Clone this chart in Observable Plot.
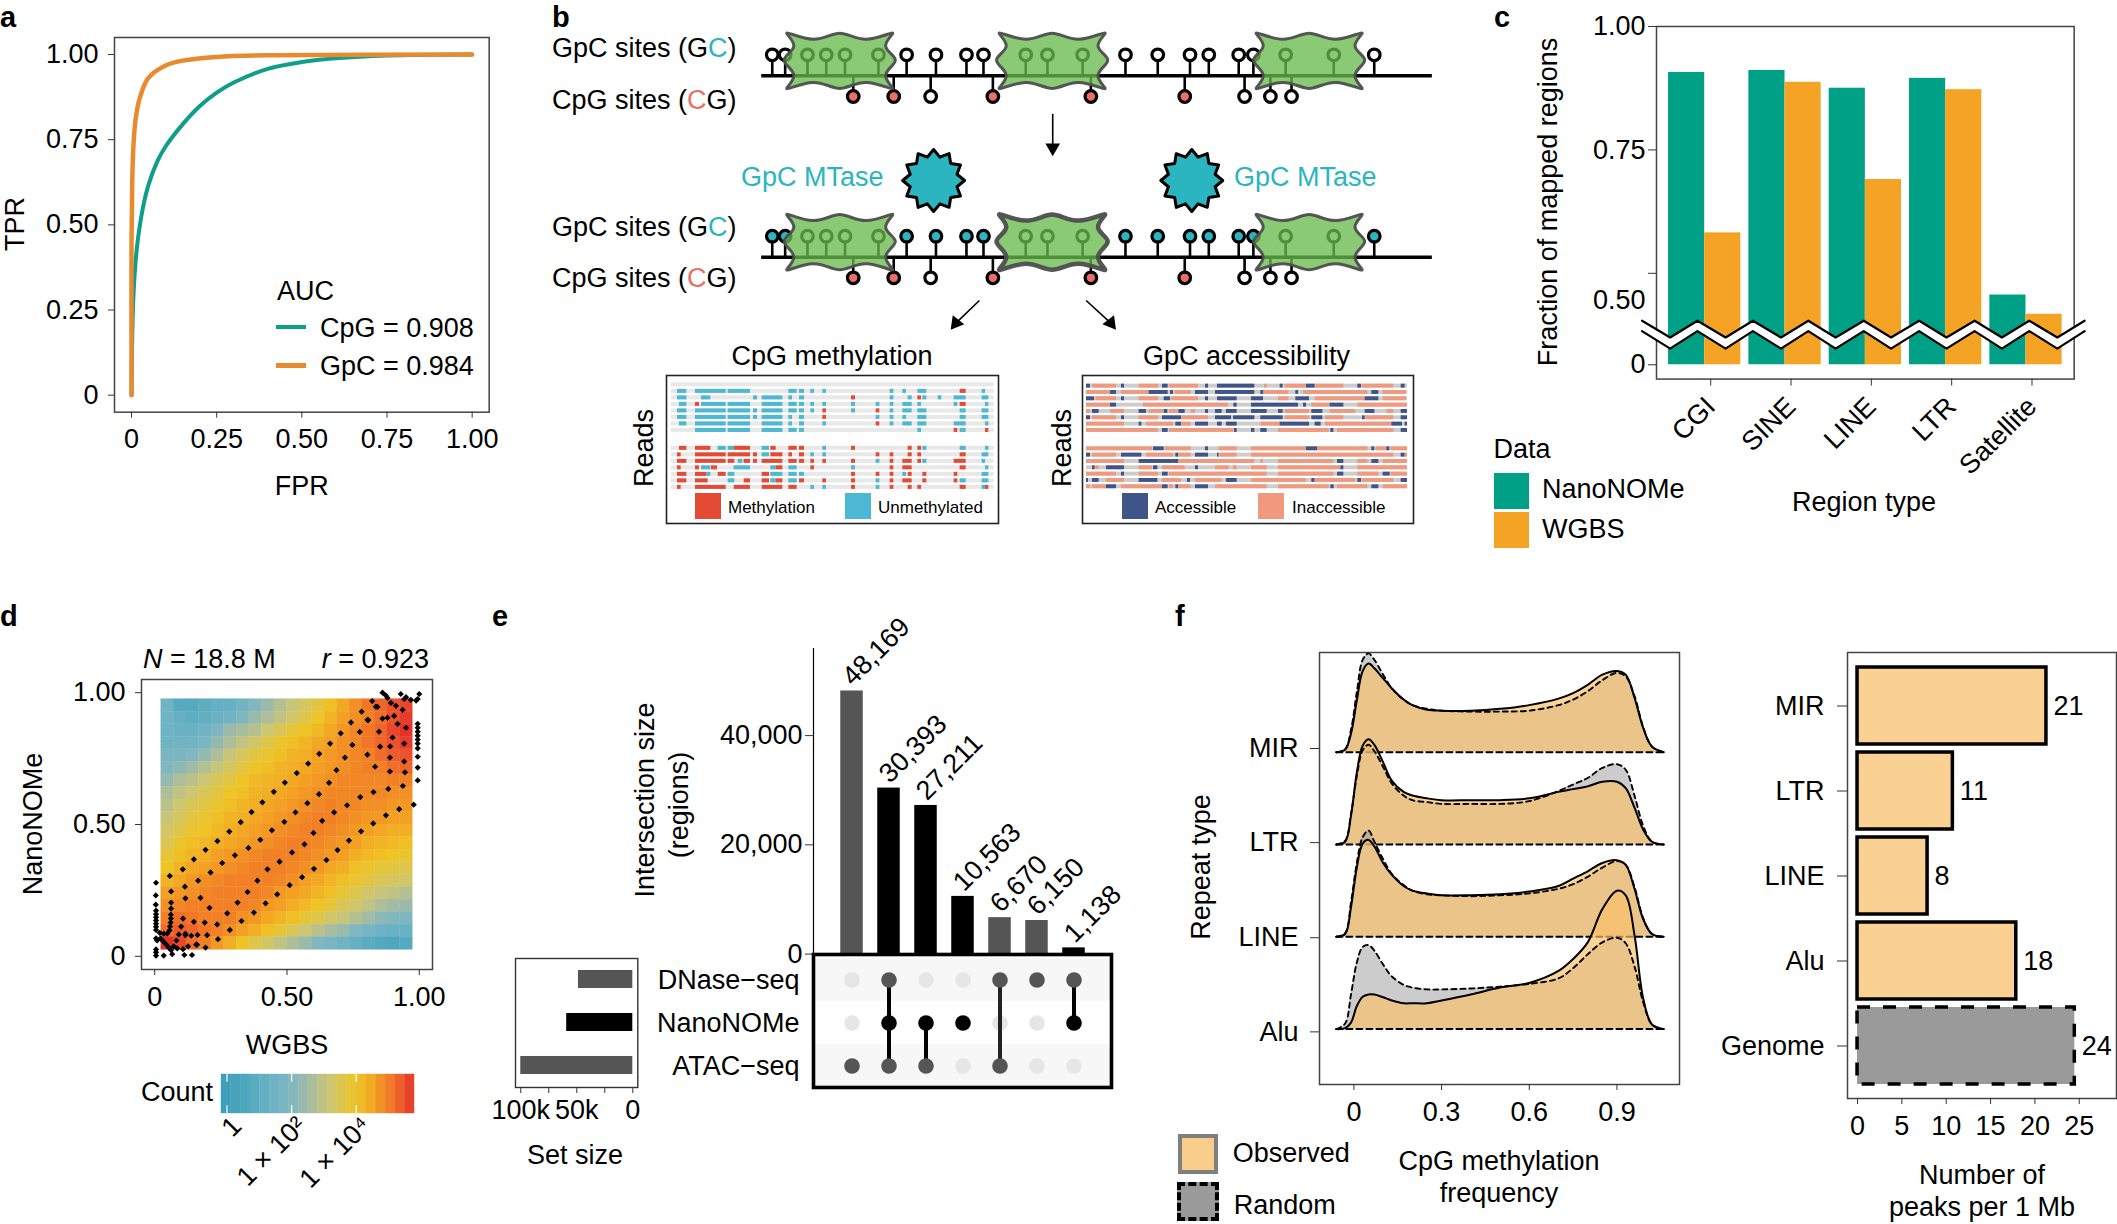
<!DOCTYPE html>
<html><head><meta charset="utf-8">
<script src="https://cdn.jsdelivr.net/npm/d3@7"></script>
<script src="https://cdn.jsdelivr.net/npm/@observablehq/plot@0.6"></script>
<style>
html,body{margin:0;padding:0;background:#fff;overflow:hidden}
#page{position:relative;width:2117px;height:1224px;overflow:hidden;font-family:"Liberation Sans",Arial,sans-serif;color:#000}
.t{position:absolute;white-space:nowrap;line-height:1}
.s{position:absolute;box-sizing:border-box}
svg{position:absolute}
</style></head><body><div id="page"></div>
<script>
/* ---------- panel a ---------- */
const cpgRocFpr=[0,.004,.011,.019,.034,.05,.075,.1,.15,.2,.25,.3,.4,.5,.6,.75,1];
const cpgRocTpr=[0,.25,.38,.46,.553,.618,.685,.73,.795,.848,.888,.918,.958,.978,.989,.997,1];
const gpcRocFpr=[0,0,.002,.005,.012,.025,.05,.1,.15,.25,.42,1];
const gpcRocTpr=[0,.45,.62,.72,.81,.875,.932,.968,.982,.993,.998,1];
/* ---------- panel b ---------- */
const gpcSites=[395,417,455,487,519,576,624,674,726,755,827,864,924,997,1052,1107,1139,1190,1215,1270,1352,1421];
const nucleosomeGpc=[455,487,519,576,827,864,924,1270,1352];
const cpgSites=[533,602,665,771,938,1098,1200,1244,1280];
const cpgMethylated=[533,602,771,938,1098];
const strands=[226,770];
const nucleosomeCenters=[510,872,1310];
const blobX=[-1.185,-.44,0,.44,1.185,.678,1.206,.678,1.185,.44,0,-.44,-1.185,-.678,-1.206,-.678];
const blobY=[-104,-46,-101,-46,-104,-41,-3,41,104,46,101,46,104,41,-3,-41];
const mtase=[[670,540],[1110,540]];
const cpgReadRows=[
"U36-64 U90-182 U188-255 U370-395 U402-417 U436-447 U472-483 U674-685 U712-723 U757-784 M884-902 U950-960",
"U36-64 U108-136 U264-276 U290-352 U370-381 U402-417 M558-570 U674-685 U728-740 M757-768 U772-784 U818-829 U866-902 U950-970",
"U42-64 M90-102 U108-182 U188-255 U290-352 U370-395 U402-417 U436-447 U472-483 U558-570 U632-643 U674-685 U712-740 U757-768 U866-877 M884-902 U960-970",
"U36-64 U90-182 U188-255 U264-276 U290-352 U370-395 U402-417 U436-447 M472-483 U558-570 M632-643 U674-685 U712-740 U757-784 U884-902 U950-970",
"U36-64 U90-182 U188-255 U264-276 U290-352 U370-381 U402-417 M472-483 U632-643 U674-685 U712-723 U757-784 U884-902 U950-970",
"U42-64 U90-182 U188-255 U290-352 U370-381 U402-417 U472-483 M632-643 U674-685 U712-740 U757-784 U866-902 U960-970",
"U90-182 U188-255 U290-352 U370-395 U402-417 U757-768 M866-877 U884-902 M960-970",
"M42-64 M90-136 U158-182 U188-206 M206-255 U290-312 M316-332 M370-395 M402-417 U472-483 M558-570 M728-740 M757-768 U772-784 U884-902 U960-970",
"M36-47 M90-182 M188-255 M264-276 U290-312 M316-352 M370-381 M402-417 U436-447 U472-483 M632-643 M674-685 M728-740 M757-768 M884-902 U950-970",
"M36-64 M90-182 M188-208 U218-232 M236-255 M264-276 M290-352 M370-395 M402-417 M436-447 M472-483 M558-570 U632-643 M674-685 M712-740 M757-768 U772-784 M866-902 U950-960",
"M36-47 M90-102 U108-136 M138-156 U206-255 U316-332 M332-352 U370-395 M436-447 U558-570 M674-685 M712-740 M884-902 U960-970",
"M36-64 M90-124 U124-136 M158-182 U188-208 M290-312 U316-352 U370-395 U402-417 M558-570 M632-643 M674-685 U712-723 M728-740 M772-784 M866-877 U950-970",
"M36-64 M90-128 U188-208 M236-255 M290-312 U316-332 M332-352 U370-395 M402-417 M472-483 M558-570 U632-643 M674-685 M712-740 M772-784 M866-877 U884-902 U950-970",
"M36-47 M90-182 M206-255 M290-352 M370-395 U436-447 U472-483 M558-570 U632-643 M674-685 M728-740 M757-768 M884-902 U950-960 M960-970"];
const cpgTracks=[1,2,3,4,5,6,7,9.75,10.75,11.75,12.75,13.75,14.75,15.75];
const gpcReadRows=[
"A24-36 I42-114 A129-138 I182-240 A252-269 I273-360 A381-390 A417-529 I558-566 A605-614 I620-684 A684-710 I712-796 A838-849 I852-946 A968-980",
"I24-96 A96-114 I129-212 A212-269 A276-285 I290-338 A351-390 A411-529 A547-556 I558-631 A652-660 I675-868 A880-901 I914-984",
"A24-48 I52-114 A129-138 I182-240 A257-276 I280-360 A381-390 A417-476 A519-555 I600-631 A652-693 I710-860 A860-901 I914-984",
"I24-96 A96-114 I195-450 A466-476 A519-660 A675-684 I700-755 A755-796 I838-987",
"I24-36 A42-62 I96-138 A182-204 I212-255 A257-268 I273-299 A301-320 I338-351 A381-390 A411-431 A444-476 A519-566 A600-614 I620-693 A700-733 I755-832 A860-889 I926-946 A968-987",
"A24-36 I42-114 A129-138 I182-240 A252-309 I310-390 A411-459 A465-529 A547-614 I620-693 A700-733 I741-796 A852-860 I862-946 A968-987",
"I24-138 A182-190 I204-285 A292-309 I310-338 A351-390 A417-431 A444-476 I547-605 A605-693 A710-728 I741-940 A940-972 A980-987",
"I24-240 A252-269 I273-466 A468-476 A519-529 A547-566 I600-752 A757-766 I777-946 A968-987",
"I24-222 A225-257 I260-338 A381-390 I422-476 I519-684 A684-718 I718-868 A880-889 I893-925 A925-934 I938-987",
"A24-36 I42-114 A129-190 I204-285 A292-301 I301-338 A351-390 A417-422 I425-476 I519-946 A968-980 I980-987",
"I24-138 A182-301 I301-529 I547-555 I600-767 A777-796 I838-868 A880-901 I914-987",
"A42-50 I52-62 A84-138 I182-222 A225-238 I252-320 A351-360 I411-452 I465-476 I519-566 I600-786 A787-796 I838-987",
"I24-114 A129-138 I182-240 A252-269 I273-566 I600-767 A777-796 I838-901 A914-935 I938-987",
"A24-30 A42-62 I84-138 A182-238 I252-309 A327-336 I351-431 A444-476 I519-684 A700-710 I710-832 A838-849 I852-946 A968-987",
"I24-36 I42-84 A84-114 I129-252 A252-269 I273-285 A292-301 I301-338 A351-390 I411-566 I600-752 A757-767 I777-868 A880-901 I914-987"];
const gpcTracks=[0,1,2,3,4,5,6,7,9.9,10.9,11.9,12.9,13.9,14.9,15.9];
/* ---------- panel c ---------- */
const regionTypes=["CGI","SINE","LINE","LTR","Satellite"];
const nanonomeFraction=[.907,.911,.875,.895,.456];
const wgbsFraction=[.582,.887,.69,.872,.417];
const zigzagX=[-.78,-.43,-.09,.26,.6,.95,1.29,1.63,1.98,2.32,2.67,3.01,3.36,3.7,4.04,4.39,4.73];
const fractionTicks=[0,.5,.75,1];
const fractionLabels=[[0,"0"],[.446,"0.50"],[.75,"0.75"],[1,"1.00"]];
/* ---------- panel d: log10 count per bin, tenths, rows from top ---------- */
const binCounts=[
[15,8,8,10,12,12,16,20,24,28,31,34,37,41,45,48,51,53,55,56],
[15,12,10,11,13,15,19,24,27,30,33,36,40,43,46,48,50,52,55,57],
[14,13,13,15,19,24,26,28,32,35,38,40,42,45,47,49,51,53,56,58],
[15,15,16,18,23,27,30,33,36,39,41,43,45,46,48,49,51,53,55,57],
[18,18,20,23,27,31,34,37,39,41,43,44,46,47,48,49,50,52,54,55],
[20,22,25,28,31,34,37,40,41,43,44,45,46,47,48,49,50,50,52,53],
[23,27,29,32,35,37,40,42,43,44,45,46,47,48,49,49,49,49,50,50],
[27,30,32,35,37,40,41,43,44,45,46,47,48,49,49,49,49,49,48,48],
[29,32,35,37,39,41,43,44,45,46,47,48,49,50,49,49,48,48,47,47],
[31,34,37,39,41,43,44,45,46,47,48,49,50,50,49,48,47,47,46,46],
[33,36,39,40,42,44,45,46,47,48,49,50,50,49,48,47,46,45,44,44],
[35,39,41,42,44,45,46,47,48,49,50,50,49,48,47,46,44,43,42,41],
[38,41,43,44,46,47,48,49,50,50,50,49,48,47,46,44,42,41,40,39],
[40,43,45,46,47,48,49,50,50,50,49,48,47,45,44,41,39,38,37,36],
[43,45,47,48,49,50,50,50,50,49,48,46,45,43,41,39,37,35,34,33],
[46,47,48,49,50,50,50,50,49,47,46,45,43,41,38,36,33,31,30,28],
[48,49,50,50,50,50,50,49,47,46,44,42,40,38,35,33,30,27,25,24],
[50,52,51,50,50,50,48,47,45,43,41,38,36,33,31,28,25,22,20,19],
[52,54,53,51,50,48,46,44,41,38,35,32,29,26,24,20,17,14,13,13],
[58,56,52,50,47,44,40,36,33,30,27,24,20,18,15,12,9,7,6,8]];
const countStops=[-.2,.6,1.4,2,2.6,3.2,4,4.5,5,5.4,5.8];
const countColors=["#3a9db7","#4ea7bd","#6db3c4","#80b7c0","#a8bc9f","#cdc773","#eec526","#f3a823","#f28026","#ee5c2b","#e4322b"];
const contourOuterUpper=[[.057,.305],[.106,.33],[.148,.368],[.192,.404],[.237,.437],[.282,.473],[.325,.509],[.366,.547],[.407,.584],[.45,.624],[.492,.659],[.537,.695],[.58,.731],[.622,.768],[.663,.807],[.703,.846],[.742,.887],[.782,.928],[.822,.968]];
const contourInnerUpper=[[.062,.246],[.114,.264],[.164,.287],[.211,.318],[.255,.354],[.303,.383],[.354,.411],[.399,.442],[.443,.478],[.49,.51],[.532,.546],[.577,.581],[.621,.615],[.659,.658],[.687,.706],[.719,.754],[.747,.802],[.775,.851],[.807,.896],[.836,.947],[.873,.99]];
const contourInnerLower=[[.116,.22],[.173,.222],[.207,.184],[.148,.131],[.189,.128],[.236,.121],[.274,.163],[.313,.204],[.351,.244],[.388,.287],[.426,.33],[.472,.359],[.519,.394],[.566,.425],[.6,.468],[.633,.514],[.678,.546],[.727,.573],[.777,.604],[.827,.623],[.883,.635],[.938,.646]];
const contourOuterLower=[[.116,.086],[.16,.044],[.192,.033],[.239,.065],[.284,.1],[.328,.134],[.375,.166],[.419,.201],[.463,.235],[.51,.27],[.557,.3],[.602,.332],[.649,.365],[.691,.403],[.734,.439],[.78,.474],[.826,.504],[.874,.535],[.924,.558],[.979,.575]];
const contourLowCorner=[[.005,.279],[.004,.231],[.004,.196],[.005,.173],[.005,.16],[.005,.148],[.005,.136],[.005,.124],[.005,.112],[.005,.1],[.005,.068],[.009,.06],[.005,.026],[.005,.015],[.005,.003],[.062,.204],[.062,.181],[.061,.158],[.061,.143],[.06,.128],[.058,.113],[.056,.098],[.047,.086],[.034,.086],[.019,.089],[.022,.068],[.032,.057],[.043,.045],[.053,.033],[.062,.023],[.072,.038],[.082,.06],[.091,.083],[.1,.113],[.107,.143],[.034,.003],[.066,.008],[.112,.005],[.141,.005],[.085,.03],[.107,.027],[.126,.038],[.157,.044],[.116,.08],[.138,.078],[.162,.081],[.198,.08]];
const contourHighCorner=[[.994,.667],[.994,.716],[.994,.757],[.994,.789],[.994,.807],[.994,.822],[.994,.837],[.994,.852],[.994,.867],[.994,.882],[.988,.97],[1,.995],[.861,1],[.88,.98],[.893,.961],[.912,.95],[.93,.995],[.943,.976],[.95,.983],[.968,.973],[.994,.976],[.905,.912],[.88,.905],[.861,.902],[.842,.946],[.804,.897],[.848,.852],[.899,.83],[.918,.882],[.937,.935],[.95,.867],[.852,.795],[.89,.796],[.943,.807],[.804,.765],[.833,.719],[.889,.754],[.943,.739],[.889,.701],[.946,.698]];
/* ---------- panel e ---------- */
const intersectionSizes=[48169,30393,27211,10563,6670,6150,1138];
const intersectionDark=[true,false,false,false,true,true,false];
const setNames=["DNase−seq","NanoNOMe","ATAC−seq"];
const setSizes=[48500,59000,100000];
const intersectionMembers=[["ATAC−seq"],["DNase−seq","NanoNOMe","ATAC−seq"],["NanoNOMe","ATAC−seq"],["NanoNOMe"],["DNase−seq","ATAC−seq"],["DNase−seq"],["DNase−seq","NanoNOMe"]];
/* ---------- panel f ---------- */
const methylationX=[-.06,-.03,-.01,.01,.03,.05,.07,.1,.13,.17,.2,.25,.3,.4,.5,.6,.7,.75,.8,.85,.9,.93,.96,.99,1.02,1.06];
const mirObserved=[0,.03,.2,.56,.88,.96,.91,.8,.69,.57,.51,.46,.45,.45,.47,.51,.58,.64,.73,.84,.88,.84,.59,.26,.06,0];
const mirRandom=[0,.03,.24,.65,1,1.07,1,.84,.69,.57,.51,.47,.45,.44,.44,.45,.51,.57,.66,.78,.86,.82,.61,.27,.06,0];
const ltrObserved=[0,.03,.31,.78,1.07,1.14,1.08,.89,.69,.57,.53,.5,.48,.48,.48,.5,.57,.6,.63,.68,.68,.61,.4,.16,.03,0];
const ltrRandom=[0,.04,.33,.74,1.02,1.08,1.01,.84,.66,.53,.48,.46,.44,.44,.44,.47,.58,.65,.72,.83,.87,.81,.53,.2,.03,0];
const lineObserved=[0,.03,.32,.75,1.01,1.05,.98,.8,.67,.55,.5,.47,.45,.45,.46,.49,.55,.63,.71,.8,.83,.78,.52,.19,.03,0];
const lineRandom=[0,.04,.37,.8,1.08,1.15,1.03,.84,.68,.56,.5,.46,.45,.44,.45,.47,.52,.57,.65,.75,.82,.78,.54,.2,.03,0];
const aluObserved=[0,.01,.07,.25,.35,.375,.375,.345,.31,.28,.28,.28,.31,.375,.45,.5,.63,.76,.94,1.3,1.5,1.45,1.02,.33,.05,0];
const aluRandom=[0,.06,.375,.72,.89,.91,.85,.7,.57,.48,.45,.43,.43,.44,.46,.49,.55,.66,.81,.94,.99,.93,.68,.29,.05,0];
const repeatNames=["MIR","LTR","LINE","Alu"];
const repeatRows=[3,2,1,0];
const repeatTicks=[3.04,2.02,.99,-.03];
const peakNames=["MIR","LTR","LINE","Alu","Genome"];
const peakValues=[21.3,10.75,7.9,17.9,24.5];
const peakLabels=["21","11","8","18","24"];

/* ---------- helpers ---------- */
const page=document.getElementById("page");
const FONT='"Liberation Sans",Arial,sans-serif';
const FS=27;
const style={fontFamily:FONT,fontSize:FS+"px",background:"transparent",overflow:"visible",color:"#000"};
function box(L,R,T,B,ml=70,mr=20,mt=20,mb=70){return {L,T,ml,mt,opts:{width:R-L+ml+mr,height:B-T+mt+mb,marginLeft:ml,marginRight:mr,marginTop:mt,marginBottom:mb,style}}}
function mount(b,spec){const p=Plot.plot({...b.opts,...spec});p.style.left=(b.L-b.ml)+"px";p.style.top=(b.T-b.mt)+"px";p.style.maxWidth="none";page.appendChild(p);return p}
function label(html,x,y,o={}){const d=document.createElement("div");d.className="t";d.innerHTML=html;
  const a=o.anchor==="end"?-100:o.anchor==="start"?0:-50;
  d.style.left=x+"px";d.style.top=y+"px";d.style.fontSize=(o.size||FS)+"px";
  if(o.color)d.style.color=o.color; if(o.weight)d.style.fontWeight=o.weight; if(o.family)d.style.fontFamily=o.family;
  if(o.vertical){d.style.writingMode="vertical-rl";d.style.transform="translate(-50%,-50%) rotate(180deg)";}
  else d.style.transform=`translate(${a}%,-50%)`;
  page.appendChild(d)}
function swatch(x,y,w,h,bg,css=""){const d=document.createElement("div");d.className="s";d.style.cssText=`left:${x}px;top:${y}px;width:${w}px;height:${h}px;background:${bg};${css}`;page.appendChild(d)}
const fmt2=d=>d===0?"0":d.toFixed(2);
const axisColor="#333";
const parseReads=(rows,tracks)=>rows.flatMap((r,i)=>r.split(" ").map(s=>{const m=s.match(/([A-Z])(\d+)-(\d+)/);return {state:m[1],start:+m[2],end:+m[3],track:tracks[i]}}));

/* ---------- panel letters ---------- */
for(const [l,x,y] of [["a",0,17],["b",552,17],["c",1494,17],["d",0,616],["e",492,616],["f",1175,616]])
  label(l,x,y,{anchor:"start",size:29,weight:"bold",family:'"Liberation Sans"'});

/* ---------- a ---------- */
{
  const roc=(xs,ys)=>xs.map((x,i)=>({fpr:x,tpr:ys[i]}));
  mount(box(114.3,489,36.8,411.5,90,30,10,100),{
    x:{domain:[-.05,1.05]},y:{domain:[-.05,1.05]},
    marks:[
      Plot.frame({stroke:"#444",strokeWidth:1.5}),
      Plot.axisX({ticks:[0,.25,.5,.75,1],tickFormat:fmt2,tickSize:6,tickPadding:11,stroke:axisColor,label:"FPR",labelAnchor:"center",labelOffset:83,labelArrow:"none",fontSize:FS}),
      Plot.axisY({ticks:[0,.25,.5,.75,1],tickFormat:fmt2,tickSize:6,tickPadding:10,stroke:axisColor,label:null,fontSize:FS}),
      Plot.line(roc(cpgRocFpr,cpgRocTpr),{x:"fpr",y:"tpr",stroke:"#0f9e8a",strokeWidth:4,curve:"catmull-rom"}),
      Plot.line(roc(gpcRocFpr,gpcRocTpr),{x:"fpr",y:"tpr",stroke:"#e88b2f",strokeWidth:4.5,curve:"catmull-rom"})
    ]});
  label("TPR",15,224,{vertical:true});
  label("AUC",277,291,{anchor:"start"});
  swatch(276,325,30,4,"#0f9e8a");
  swatch(276,363,30,4.5,"#e88b2f");
  label("CpG = 0.908",320,328,{anchor:"start"});
  label("GpC = 0.984",320,366,{anchor:"start"});
}

/* ---------- b ---------- */
{
  const gpc=strands.flatMap((s,k)=>gpcSites.map(x=>({x,base:s,head:s-63,fill:(k===1&&!nucleosomeGpc.includes(x))?"#2ab5c0":"#fff"})));
  const cpg=strands.flatMap(s=>cpgSites.map(x=>({x,base:s,head:s+62,fill:cpgMethylated.includes(x)?"#ea6f68":"#fff"})));
  const blobs=strands.flatMap((s,k)=>nucleosomeCenters.flatMap((c,j)=>blobX.map((dx,i)=>({id:k+"-"+j,x:c+dx*92,y:s-45+blobY[i],bold:k===1&&j===1}))));
  const star={draw(ctx,size){const R=Math.sqrt(size/Math.PI),n=12;for(let i=0;i<2*n;i++){const a=i*Math.PI/n,r=i%2?R*.78:R;const px=r*Math.sin(a),py=-r*Math.cos(a);i?ctx.lineTo(px,py):ctx.moveTo(px,py)}ctx.closePath()}};
  const arrows=[{x1:873,y1:340,x2:873,y2:442,rot:180},{x1:748,y1:900,x2:708,y2:968,rot:218},{x1:930,y1:900,x2:972,y2:968,rot:142}];
  mount({L:540,T:0,ml:0,mt:0,opts:{width:920,height:340,margin:0,style}},{
    x:{domain:[0,1568],range:[0,920],axis:null},y:{domain:[0,1020],range:[0,340],axis:null},
    marks:[
      Plot.ruleX(gpc,{x:"x",y1:"base",y2:"head",stroke:"#000",strokeWidth:2.6}),
      Plot.ruleX(cpg,{x:"x",y1:"base",y2:"head",stroke:"#000",strokeWidth:2.6}),
      Plot.dot(gpc,{x:"x",y:"head",r:5.8,fill:"fill",stroke:"#000",strokeWidth:3.2}),
      Plot.dot(cpg,{x:"x",y:"head",r:5.8,fill:"fill",stroke:"#000",strokeWidth:3.2}),
      Plot.ruleY(strands,{x1:377,x2:1520,stroke:"#000",strokeWidth:3.5}),
      Plot.line(blobs,{x:"x",y:"y",z:"id",curve:"basis-closed",fill:"#67ba4b",fillOpacity:.77,stroke:"#4d4d4d",strokeWidth:d=>d.bold?4.5:3,strokeOpacity:.95}),
      Plot.dot(mtase,{x:d=>d[0],y:d=>d[1],r:31,symbol:star,fill:"#2ab5c0",stroke:"#000",strokeWidth:3,strokeLinejoin:"round"}),
      Plot.link(arrows,{x1:"x1",y1:"y1",x2:"x2",y2:"y2",stroke:"#000",strokeWidth:1.6}),
      Plot.dot(arrows,{x:"x2",y:"y2",symbol:"triangle2",r:7,fill:"#000",rotate:"rot"})
    ]});
  const gc='GpC sites (G<span style="color:#2ab5c0">C</span>)', cg='CpG sites (<span style="color:#ea6f68">C</span>G)';
  label(gc,552,48,{anchor:"start"});label(cg,552,100,{anchor:"start"});
  label(gc,552,227,{anchor:"start"});label(cg,552,278,{anchor:"start"});
  label("GpC MTase",741,177,{anchor:"start",color:"#2ab5c0"});
  label("GpC MTase",1234,177,{anchor:"start",color:"#2ab5c0"});

  const readColors={M:"#e54b34",U:"#4db8d3",A:"#3f5489",I:"#f0997e"};
  const readsPanel=(header,rows,xDom,yDom,L,R,tracks,gridStart,gridEnd,grid)=>{
    mount(box(L,R,375,523,1,1,1,1),{
      x:{domain:xDom,axis:null},y:{domain:yDom,axis:null},
      marks:[
        Plot.rect(tracks,{x1:gridStart,x2:gridEnd,y1:d=>d-.31,y2:d=>d+.31,fill:grid}),
        ...(header?[Plot.rect([0],{x1:gridStart,x2:gridEnd,y1:-.31,y2:.31,fill:"#e8e8e8"})]:[]),
        Plot.rect(rows,{x1:"start",x2:"end",y1:d=>d.track-.31,y2:d=>d.track+.31,fill:d=>readColors[d.state]}),
        Plot.frame({stroke:"#222",strokeWidth:1.6})
      ]});
  };
  readsPanel(true,parseReads(cpgReadRows,cpgTracks),[3,999],[21.3,-1.44],666,998,cpgTracks,18,986,"#e8e8e8");
  readsPanel(false,parseReads(gpcReadRows,gpcTracks),[12,1005],[21.7,-1.68],1082,1413,gpcTracks,24,987,"#cdcdcd");
  label("CpG methylation",832,356,{});
  label("GpC accessibility",1246.5,356,{});
  label("Reads",643.5,448,{vertical:true});
  label("Reads",1062,448,{vertical:true});
  swatch(695,493,26,26,readColors.M);label("Methylation",728,507,{anchor:"start",size:17});
  swatch(845,493,26,26,readColors.U);label("Unmethylated",878,507,{anchor:"start",size:17});
  swatch(1121.6,493,26,26,readColors.A);label("Accessible",1155,507,{anchor:"start",size:17});
  swatch(1257.5,493,26,26,readColors.I);label("Inaccessible",1292,507,{anchor:"start",size:17});
}

/* ---------- c ---------- */
{
  /* broken axis: the stretch below the break is compressed */
  const brk=v=>v<=.36?v*.1257:.04524+(v-.36);
  const b=box(1655.7,2073.4,26,378.6,100,40,20,110);
  const bars=regionTypes.flatMap((r,i)=>[{x1:i-.45,x2:i,v:nanonomeFraction[i],c:"#00a087"},{x1:i,x2:i+.45,v:wgbsFraction[i],c:"#f5a324"}]);
  const zig=zigzagX.map((x,i)=>({x,top:brk(i%2?.37:.404),bottom:brk(i%2?.261:.383)}));
  const labelTicks=fractionLabels.map(d=>brk(d[0]));
  mount(b,{
    x:{domain:[-.6,4.6]},
    y:{domain:[-.029,.68524]},
    marks:[
      Plot.frame({stroke:"#444",strokeWidth:1.5}),
      Plot.rect(bars,{x1:"x1",x2:"x2",y1:0,y2:d=>brk(d.v),fill:"c"}),
      Plot.axisX({ticks:[0,1,2,3,4],tickFormat:i=>regionTypes[i],tickRotate:-45,tickSize:7,tickPadding:16,dx:6,stroke:axisColor,label:null,fontSize:FS}),
      Plot.axisY({ticks:fractionTicks.map(brk),tickFormat:()=>"",tickSize:8,stroke:axisColor,label:null}),
      Plot.axisY({ticks:labelTicks,tickFormat:d=>fractionLabels[labelTicks.indexOf(d)][1],tickSize:0,tickPadding:11,label:null,fontSize:FS}),
      Plot.areaY(zig,{x:"x",y1:"bottom",y2:"top",fill:"#fff"}),
      Plot.line(zig,{x:"x",y:"top",stroke:"#000",strokeWidth:2.2}),
      Plot.line(zig,{x:"x",y:"bottom",stroke:"#000",strokeWidth:2.2})
    ]});
  label("Fraction of mapped regions",1548.4,202,{vertical:true});
  label("Region type",1864,502,{});
  label("Data",1493.5,449,{anchor:"start"});
  swatch(1493.5,472.5,35.5,36,"#00a087");swatch(1493.5,512,35.5,36,"#f5a324");
  label("NanoNOMe",1542,489,{anchor:"start"});label("WGBS",1542,529,{anchor:"start"});
}

/* ---------- d ---------- */
{
  const w=.95/20;
  const cells=binCounts.flatMap((row,r)=>row.map((v,c)=>({x1:.025+c*w,x2:.025+(c+1)*w,y1:.975-(r+1)*w,y2:.975-r*w,v:v/10})));
  const contour=[...contourOuterUpper,...contourInnerUpper,...contourInnerLower,...contourOuterLower,...contourLowCorner,...contourHighCorner];
  const colorScale={type:"linear",domain:countStops,range:countColors,legend:false};
  mount(box(141,432,679,969,90,30,10,100),{
    x:{domain:[-.05,1.05]},y:{domain:[-.05,1.05]},color:colorScale,
    marks:[
      Plot.frame({stroke:"#444",strokeWidth:1.5}),
      Plot.rect(cells,{x1:"x1",x2:"x2",y1:"y1",y2:"y2",fill:"v",stroke:"v",strokeWidth:.4}),
      Plot.dot(contour,{x:d=>d[0],y:d=>d[1],symbol:"diamond2",r:2.8,fill:"#000"}),
      Plot.axisX({ticks:[0,.5,1],tickFormat:fmt2,tickSize:6,tickPadding:11,stroke:axisColor,label:null,fontSize:FS}),
      Plot.axisY({ticks:[0,.5,1],tickFormat:fmt2,tickSize:6,tickPadding:10,stroke:axisColor,label:null,fontSize:FS})
    ]});
  label("<i>N</i> = 18.8 M",143,659,{anchor:"start"});
  label("<i>r</i> = 0.923",429,659,{anchor:"end"});
  label("NanoNOMe",33,824,{vertical:true});
  label("WGBS",287,1045,{});
  label("Count",141,1091.5,{anchor:"start"});
  const bands=d3.range(20).map(i=>({x1:-.17+i*.2985,x2:-.17+(i+1)*.2985}));
  const tickText={0:"1",2:"1 × 10²",4:"1 × 10⁴"};
  mount(box(221,414,1074,1113,20,20,5,110),{
    x:{domain:[-.17,5.8]},y:{domain:[0,1],axis:null},color:colorScale,
    marks:[
      Plot.rect(bands,{x1:"x1",x2:"x2",fill:d=>(d.x1+d.x2)/2,stroke:d=>(d.x1+d.x2)/2,strokeWidth:.4}),
      Plot.ruleX([0,2,4],{y1:0,y2:.2,stroke:"#fff",strokeWidth:1.2}),
      Plot.ruleX([0,2,4],{y1:.8,y2:1,stroke:"#fff",strokeWidth:1.2}),
      Plot.axisX({ticks:[0,2,4],tickFormat:d=>tickText[d],tickRotate:-45,tickSize:0,tickPadding:8,dx:10,label:null,fontSize:FS})
    ]});
}

/* ---------- e ---------- */
{
  const cols=d3.range(7);
  const L=813,R=1111;
  const sizes=intersectionSizes.map((v,i)=>({col:i,v,dark:intersectionDark[i]}));
  mount(box(L,R,648,953.6,20,20,20,4),{
    x:{type:"band",domain:cols,range:[20+19.5,20+278.5],padding:0,axis:null},
    y:{domain:[0,55945]},
    marks:[
      Plot.rect(sizes,{x1:d=>d.col,x2:d=>d.col,y1:0,y2:"v",fill:d=>d.dark?"#555":"#000",insetLeft:7.25,insetRight:7.25}),
      Plot.frame({anchor:"left",stroke:"#000",strokeWidth:1.2}),
      Plot.axisY({ticks:[0,20000,40000],tickFormat:d3.format(","),tickSize:8,tickPadding:3,stroke:axisColor,label:null,fontSize:FS}),
      Plot.text(sizes,{x:"col",y:"v",text:d=>d3.format(",")(d.v),rotate:-45,textAnchor:"start",dx:-5,dy:-10,fontSize:FS,lineAnchor:"middle"})
    ]});
  const dots=setNames.flatMap(s=>cols.map(c=>({col:c,set:s,on:intersectionMembers[c].includes(s)})));
  const links=cols.flatMap(c=>intersectionMembers[c].length>1?intersectionMembers[c].map(s=>({col:c,set:s})):[]);
  mount(box(L,R,954,1087,200,20,2,2),{
    x:{type:"band",domain:cols,range:[200+19.5,200+278.5],padding:0,axis:null},
    y:{type:"band",domain:setNames,range:[5.5,134.5],padding:0},
    marks:[
      Plot.cell(["DNase−seq","ATAC−seq"],{y:d=>d,fill:"#f7f7f7"}),
      Plot.dot(dots.filter(d=>!d.on),{x:"col",y:"set",r:7.8,fill:"#e6e6e6"}),
      Plot.line(links,{x:"col",y:"set",z:"col",stroke:d=>intersectionDark[d.col]?"#222":"#000",strokeWidth:4}),
      Plot.dot(dots.filter(d=>d.on),{x:"col",y:"set",r:7.8,fill:d=>d.set==="NanoNOMe"?"#000":"#555"}),
      Plot.axisY({anchor:"left",tickSize:0,tickPadding:14,label:null,fontSize:FS}),
      Plot.ruleX([0],{frameAnchor:"left",strokeWidth:0}),
      Plot.frame({stroke:"#000",strokeWidth:3.6,strokeOpacity:1})
    ]});
  mount(box(514.7,637,958,1087,20,20,2,90),{
    x:{domain:[104700,-4460]},
    y:{type:"band",domain:setNames,range:[1.5,130.5],paddingInner:.58,paddingOuter:.29,axis:null},
    marks:[
      Plot.barX(setNames.map((s,i)=>({s,v:setSizes[i]})),{x:"v",y:"s",fill:d=>d.s==="NanoNOMe"?"#000":"#555"}),
      Plot.frame({stroke:"#333",strokeWidth:1.4}),
      Plot.axisX({ticks:[0,25000,50000,75000,100000],tickFormat:d=>({0:"0",50000:"50k",100000:"100k"})[d]||"",tickSize:6,tickPadding:6,stroke:axisColor,label:null,fontSize:FS})
    ]});
  label("Intersection size",645,800,{vertical:true});
  label("(regions)",678.6,805,{vertical:true});
  label("Set size",575,1155,{});
}

/* ---------- f ---------- */
{
  const series=[[mirObserved,mirRandom],[ltrObserved,ltrRandom],[lineObserved,lineRandom],[aluObserved,aluRandom]];
  const marks=[Plot.frame({stroke:"#444",strokeWidth:1.5})];
  series.forEach(([obs,ran],k)=>{
    const base=repeatRows[k];
    const rows=methylationX.map((x,i)=>({x,b:base,o:base+obs[i],r:base+ran[i]}));
    marks.push(
      Plot.areaY(rows,{x:"x",y1:"b",y2:"r",fill:"#999",fillOpacity:.5,curve:"catmull-rom"}),
      Plot.areaY(rows,{x:"x",y1:"b",y2:"o",fill:"#f9bf68",fillOpacity:.68,curve:"catmull-rom"}),
      Plot.line(rows,{x:"x",y:"r",stroke:"#000",strokeWidth:1.9,strokeDasharray:"5,4",curve:"catmull-rom"}),
      Plot.line(rows,{x:"x",y:"o",stroke:"#000",strokeWidth:2,curve:"catmull-rom"}),
      Plot.line(rows,{x:"x",y:"b",stroke:"#000",strokeWidth:2,strokeDasharray:"6,4"})
    );
  });
  marks.push(
    Plot.axisX({ticks:[0,.3,.6,.9],tickFormat:d=>d===0?"0":d.toFixed(1),tickSize:6,tickPadding:11,stroke:axisColor,label:null,fontSize:FS}),
    Plot.axisY({ticks:repeatTicks,tickFormat:d=>repeatNames[repeatTicks.indexOf(d)],tickSize:9,tickPadding:12,stroke:axisColor,label:null,fontSize:FS})
  );
  mount(box(1319,1679,652,1084,100,20,10,60),{x:{domain:[-.1177,1.114]},y:{domain:[-.6,4.08]},marks});
  label("Repeat type",1201,866.6,{vertical:true});
  label("CpG methylation",1499,1161,{});
  label("frequency",1499,1193,{});
  swatch(1177.6,1134,40.5,40,"#f9ce8d","border:4.5px solid #7f7f7f");
  swatch(1177,1182,42,39,"#9a9a9a","border:4px dashed #000");
  label("Observed",1232.7,1153,{anchor:"start"});
  label("Random",1233.7,1205,{anchor:"start"});

  const data=peakNames.map((n,i)=>({n,v:peakValues[i],l:peakLabels[i]}));
  mount(box(1847,2116,652,1098,140,1,5,60),{
    x:{domain:[-1.13,29.2]},
    y:{type:"band",domain:peakNames,range:[5+8.8,5+437.5],paddingInner:.1,paddingOuter:.05},
    marks:[
      Plot.frame({stroke:"#444",strokeWidth:1.5}),
      Plot.barX(data.filter(d=>d.n!=="Genome"),{x:"v",y:"n",fill:"#fad192",stroke:"#000",strokeWidth:3.5}),
      Plot.barX(data.filter(d=>d.n==="Genome"),{x:"v",y:"n",fill:"#9a9a9a",stroke:"#000",strokeWidth:3.5,strokeDasharray:"13,13"}),
      Plot.text(data,{x:"v",y:"n",text:"l",dx:7,textAnchor:"start",fontSize:FS}),
      Plot.axisX({ticks:[0,5,10,15,20,25],tickSize:6,tickPadding:11,stroke:axisColor,label:null,fontSize:FS}),
      Plot.axisY({tickSize:10,tickPadding:13,stroke:axisColor,label:null,fontSize:FS})
    ]});
  label("Number of",1982,1174.5,{});
  label("peaks per 1 Mb",1982,1207,{});
}
</script></body></html>
